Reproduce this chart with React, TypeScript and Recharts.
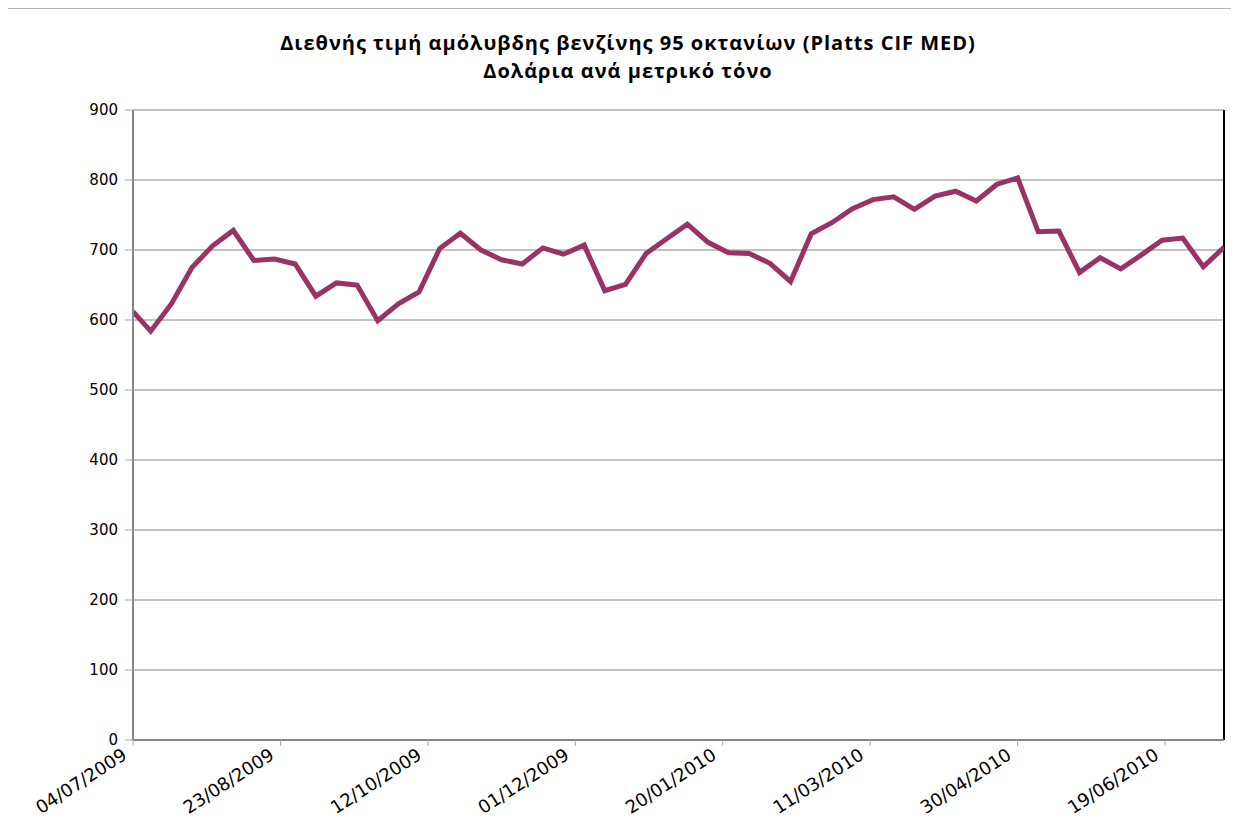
import React from "react";
import {
  LineChart,
  Line,
  XAxis,
  YAxis,
  CartesianGrid,
  ReferenceLine,
} from "recharts";

const title1 = "Διεθνής τιμή αμόλυβδης βενζίνης 95 οκτανίων (Platts CIF MED)";
const title2 = "Δολάρια ανά μετρικό τόνο";

const dates = [
  "04/07/2009", "10/07/2009", "17/07/2009", "24/07/2009", "31/07/2009",
  "07/08/2009", "14/08/2009", "21/08/2009", "28/08/2009", "04/09/2009",
  "11/09/2009", "18/09/2009", "25/09/2009", "02/10/2009", "09/10/2009",
  "16/10/2009", "23/10/2009", "30/10/2009", "06/11/2009", "13/11/2009",
  "20/11/2009", "27/11/2009", "04/12/2009", "11/12/2009", "18/12/2009",
  "25/12/2009", "01/01/2010", "08/01/2010", "15/01/2010", "22/01/2010",
  "29/01/2010", "05/02/2010", "12/02/2010", "19/02/2010", "26/02/2010",
  "05/03/2010", "12/03/2010", "19/03/2010", "26/03/2010", "02/04/2010",
  "09/04/2010", "16/04/2010", "23/04/2010", "30/04/2010", "07/05/2010",
  "14/05/2010", "21/05/2010", "28/05/2010", "04/06/2010", "11/06/2010",
  "18/06/2010", "25/06/2010", "02/07/2010", "09/07/2010",
];

const prices = [
  612, 584, 623, 675, 706, 728, 685, 687, 680, 634,
  653, 650, 599, 623, 640, 702, 724, 700, 686, 680,
  703, 694, 707, 642, 651, 695, 716, 737, 711, 696,
  695, 681, 655, 723, 739, 759, 772, 776, 758, 777,
  784, 770, 794, 803, 726, 727, 668, 689, 673, 693,
  714, 717, 676, 704,
];

const xTickLabels = [
  "04/07/2009", "23/08/2009", "12/10/2009", "01/12/2009",
  "20/01/2010", "11/03/2010", "30/04/2010", "19/06/2010",
];

const yTicks = [0, 100, 200, 300, 400, 500, 600, 700, 800, 900];

const axisStart = "04/07/2009";
const axisEnd = "09/07/2010";

const toUtc = (s: string) => {
  const [d, m, y] = s.split("/").map(Number);
  return Date.UTC(y, m - 1, d);
};
const dayOf = (s: string) => Math.round((toUtc(s) - toUtc(axisStart)) / 86400000);

const data = dates.map((d, i) => ({ day: dayOf(d), price: prices[i] }));
const xTicks = xTickLabels.map(dayOf);
const labelByDay: Record<number, string> = {};
xTickLabels.forEach((l) => (labelByDay[dayOf(l)] = l));
const endDay = dayOf(axisEnd);

const XTick = (props: any) => {
  const { x, y, payload } = props;
  return (
    <g transform={`translate(${x - 5},${y + 10})`}>
      <text
        x={0}
        y={0}
        textAnchor="end"
        transform="rotate(-33)"
        fill="#000"
        fontSize={18}
        fontFamily="DejaVu Sans"
      >
        {labelByDay[payload.value]}
      </text>
    </g>
  );
};

export default function App() {
  return (
    <div style={{ position: "relative", width: 1231, height: 824, background: "#fff" }}>
      <div
        style={{
          position: "absolute",
          left: -1,
          top: 0,
          right: 0,
          bottom: 0,
          borderTop: "1px solid #b5b5b5",
          borderLeft: "1px solid #b5b5b5",
          pointerEvents: "none",
        }}
      />
      <div
        style={{
          position: "absolute",
          left: 0,
          width: 1240,
          top: 21,
          textAlign: "center",
          fontFamily: "'Open Sans', sans-serif",
          fontWeight: 700,
          fontSize: 20,
          letterSpacing: "1px",
          lineHeight: "28px",
          color: "#000",
        }}
      >
        <div>{title1}</div>
        <div>{title2}</div>
      </div>
      <LineChart
        width={1231}
        height={824}
        data={data}
        margin={{ top: 102, right: 15, bottom: 0, left: 0 }}
      >
        <CartesianGrid horizontal vertical={false} stroke="#868686" strokeWidth={1} />
        <XAxis
          dataKey="day"
          type="number"
          domain={[0, endDay]}
          ticks={xTicks}
          interval={0}
          height={92}
          tickSize={6}
          tickLine={{ stroke: "#a6a6a6", strokeWidth: 1 }}
          axisLine={{ stroke: "#868686", strokeWidth: 2 }}
          tick={<XTick />}
          allowDataOverflow
        />
        <YAxis
          type="number"
          domain={[0, 900]}
          ticks={yTicks}
          interval={0}
          width={125}
          tickSize={8}
          tickMargin={7}
          tickLine={{ stroke: "#a6a6a6", strokeWidth: 1 }}
          axisLine={{ stroke: "#868686", strokeWidth: 2 }}
          tick={{ fill: "#000", fontSize: 15, fontFamily: "DejaVu Sans" }}
        />
        <ReferenceLine x={endDay} stroke="#000" strokeWidth={2} />
        <Line
          type="linear"
          dataKey="price"
          stroke="#993366"
          strokeWidth={5}
          dot={false}
          isAnimationActive={false}
        />
      </LineChart>
    </div>
  );
}
